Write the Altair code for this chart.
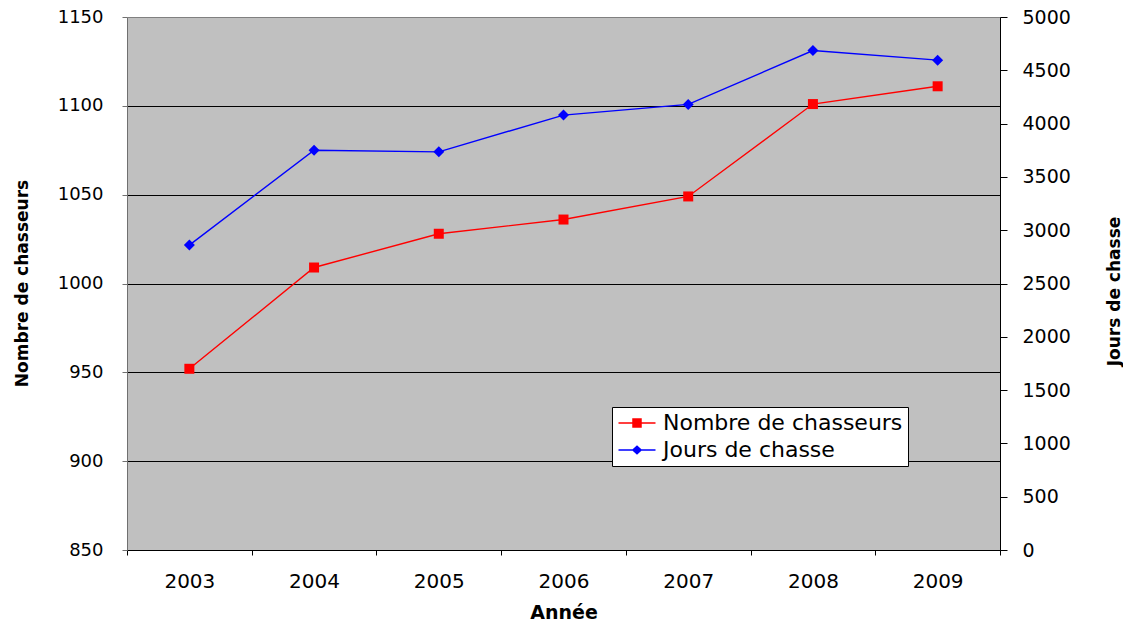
import altair as alt
import pandas as pd

# Données
annees = ["2003", "2004", "2005", "2006", "2007", "2008", "2009"]
nombre_chasseurs = [952, 1009, 1028, 1036, 1049, 1101, 1111]
jours_chasse = [2860, 3750, 3735, 4080, 4180, 4685, 4595]
series = ["Nombre de chasseurs", "Jours de chasse"]
couleurs = ["#FF0000", "#0000FF"]
ticks_gauche = [850, 900, 950, 1000, 1050, 1100, 1150]
ticks_droite = [0, 500, 1000, 1500, 2000, 2500, 3000, 3500, 4000, 4500, 5000]

# Symboles de légende : trait + marqueur
formes_legende = [
    "M-1.85,-0.07H1.85V0.07H-1.85Z M-0.475,-0.475H0.475V0.475H-0.475Z",
    "M-1.85,-0.07H1.85V0.07H-1.85Z M-0.52,0L0,-0.48L0.52,0L0,0.48Z",
]

df_c = pd.DataFrame({"Année": annees, "Valeur": nombre_chasseurs, "Série": series[0]})
df_j = pd.DataFrame({"Année": annees, "Valeur": jours_chasse, "Série": series[1]})
df_all = pd.concat([df_c, df_j], ignore_index=True)

FONT = "DejaVu Sans"

x_enc = alt.X(
    "Année:N",
    sort=annees,
    scale=alt.Scale(type="band", paddingInner=0, paddingOuter=0),
    axis=alt.Axis(
        title="Année",
        labelAngle=0,
        tickBand="extent",
        tickSize=5,
        tickColor="black",
        domainColor="black",
        labelFont=FONT,
        labelFontSize=20,
        labelColor="black",
        labelPadding=16.5,
        titleFont=FONT,
        titleFontSize=19,
        titleFontWeight="bold",
        titleColor="black",
        titleBaseline="alphabetic",
        titleY=68,
    ),
)

y_gauche = alt.Y(
    "Valeur:Q",
    scale=alt.Scale(domain=[850, 1150], nice=False, zero=False),
    axis=alt.Axis(
        title="Nombre de chasseurs",
        values=ticks_gauche,
        format="d",
        grid=True,
        gridColor={"condition": {"test": "datum.value === 1150", "value": "#808080"}, "value": "black"},
        gridWidth=1,
        domainColor="#707070",
        tickColor="#707070",
        tickSize=5,
        labelFont=FONT,
        labelFontSize=18,
        labelColor="black",
        labelPadding=19,
        titleFont=FONT,
        titleFontSize=17,
        titleFontWeight="bold",
        titleColor="black",
        titleAngle=270,
        titleAlign="center",
        titleBaseline="alphabetic",
        titleX=-100,
        titleY=266,
    ),
)

y_droite = alt.Y(
    "Valeur:Q",
    scale=alt.Scale(domain=[0, 5000], nice=False),
    axis=alt.Axis(
        orient="right",
        title="Jours de chasse",
        values=ticks_droite,
        format="d",
        grid=False,
        domainColor="black",
        tickColor="black",
        tickSize=7,
        labelFont=FONT,
        labelFontSize=19,
        labelColor="black",
        labelPadding=15,
        titleFont=FONT,
        titleFontSize=17,
        titleFontWeight="bold",
        titleColor="black",
        titleAngle=270,
        titleAlign="center",
        titleBaseline="alphabetic",
        titleX=119,
        titleY=274,
    ),
)

base_c = alt.Chart(df_c).encode(x=x_enc, y=y_gauche)
couche_c = alt.layer(
    base_c.mark_line(color=couleurs[0], strokeWidth=1.4),
    base_c.mark_point(shape="square", size=100, filled=True, color=couleurs[0], opacity=1),
)

base_j = alt.Chart(df_j).encode(x=x_enc, y=y_droite)
couche_j = alt.layer(
    base_j.mark_line(color=couleurs[1], strokeWidth=1.4),
    base_j.mark_point(shape="diamond", size=121, filled=True, color=couleurs[1], opacity=1),
)

legende_params = dict(
    title=None,
    orient="none",
    legendX=485,
    legendY=390,
    fillColor="white",
    strokeColor="black",
    padding=5,
    labelFont=FONT,
    labelFontSize=22,
    labelColor="black",
    labelOffset=15,
    labelLimit=400,
    symbolOffset=9,
    symbolSize=400,
    symbolStrokeWidth=0,
    symbolOpacity=1,
    rowPadding=5,
)

couche_legende = (
    alt.Chart(df_all)
    .transform_filter("false")
    .mark_point(filled=True, opacity=1)
    .encode(
        color=alt.Color(
            "Série:N",
            scale=alt.Scale(domain=series, range=couleurs),
            legend=alt.Legend(**legende_params),
        ),
        shape=alt.Shape(
            "Série:N",
            scale=alt.Scale(domain=series, range=formes_legende),
            legend=alt.Legend(**legende_params),
        ),
    )
)

chart = (
    alt.layer(couche_c, couche_j, couche_legende)
    .resolve_scale(y="independent")
    .properties(
        width=873,
        height=533,
        autosize=alt.AutoSizeParams(type="none"),
        padding={"left": 127, "top": 17, "right": 123, "bottom": 71},
        background="white",
        view=alt.ViewBackground(fill="#C0C0C0", stroke="transparent"),
    )
    .configure_view(fill="#C0C0C0", stroke="transparent")
)

chart.save("out.html", embed_options={"renderer": "svg", "actions": False})
